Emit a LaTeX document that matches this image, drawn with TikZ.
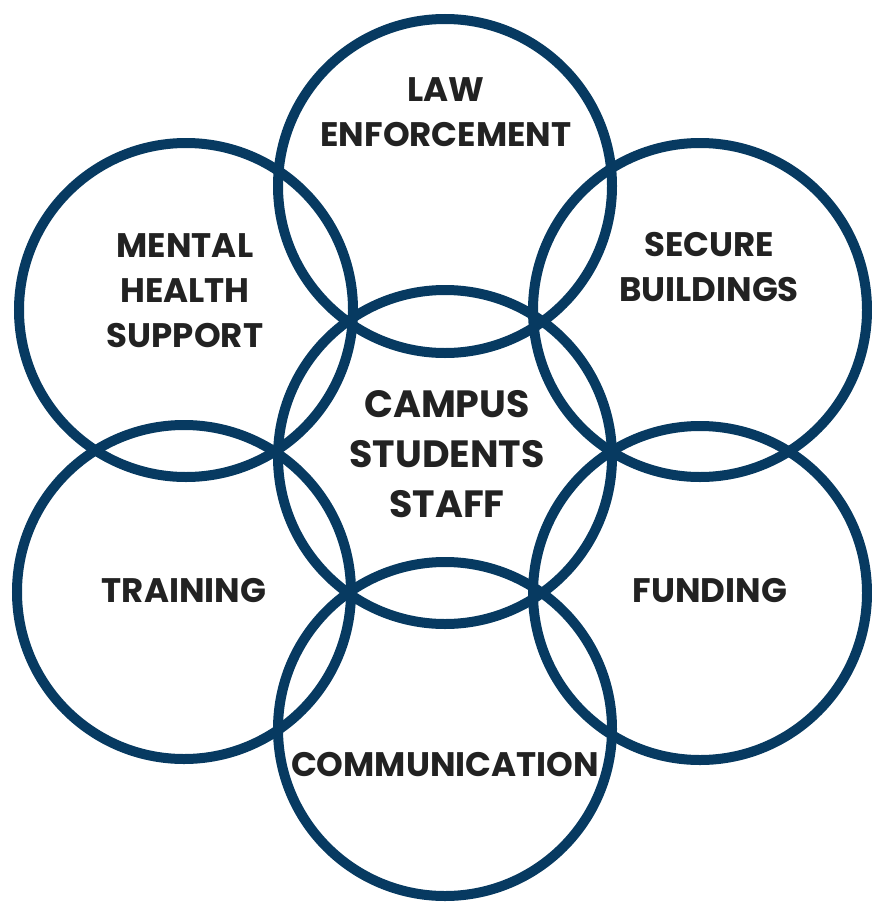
\documentclass[tikz,border=0pt]{standalone}
\usepackage{fontspec}
\setmainfont{Poppins}
\definecolor{ring}{HTML}{073A61}
\definecolor{ink}{HTML}{222222}
\begin{document}
\begin{tikzpicture}[x=1pt,y=-1pt,
  ring/.style={circle,draw=ring,line width=10pt,minimum size=334pt,inner sep=0pt},
  lab/.style={anchor=base,align=center,text=ink,inner sep=0pt,
    font=\fontsize{34}{45}\selectfont\bfseries},
  clab/.style={lab,font=\fontsize{38}{50}\selectfont\bfseries}]
\useasboundingbox (0,0) rectangle (871,902);
\node[ring] (c)  at (445,457) {};
\node[ring] (t)  at (445,186) {};
\node[ring] (b)  at (445,729) {};
\node[ring] (tl) at (186,310) {};
\node[ring] (bl) at (184,592) {};
\node[ring] (tr) at (700,310) {};
\node[ring] (br) at (700,593) {};
\node[lab]  (tlab)  at (446,146) {LAW\\ENFORCEMENT};
\node[lab]  (tllab) at (185,347) {MENTAL\\HEALTH\\SUPPORT};
\node[lab]  (trlab) at (709,301) {SECURE\\BUILDINGS};
\node[clab] (clab1) at (447,517) {CAMPUS\\STUDENTS\\STAFF};
\node[lab]  (bllab) at (184,602) {TRAINING};
\node[lab]  (brlab) at (710,602) {FUNDING};
\node[lab]  (blab)  at (445,776) {COMMUNICATION};
\end{tikzpicture}
\end{document}
